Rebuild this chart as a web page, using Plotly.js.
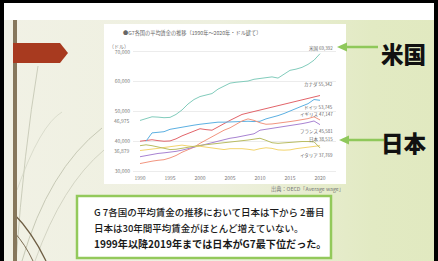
<!DOCTYPE html>
<html><head><meta charset="utf-8">
<script src="https://cdn.plot.ly/plotly-3.0.1.min.js"></script>
<style>
html,body{margin:0;padding:0;background:#fff;}
#chart{width:438px;height:261px;background:linear-gradient(to right,#f1f1e5 0%,#eef0df 50%,#e2eac3 85%,#e1e9c0 100%);}
</style></head><body><div id="chart"></div>
<script>
const years = [1990,1991,1992,1993,1994,1995,1996,1997,1998,1999,2000,2001,2002,2003,2004,2005,2006,2007,2008,2009,2010,2011,2012,2013,2014,2015,2016,2017,2018,2019,2020];
const countries = ['米国','カナダ','ドイツ','イギリス','フランス','日本','イタリア'];
const usa     = [46975,47500,48200,48100,47900,48000,49000,50500,52500,54000,55000,55500,56000,57500,58500,59500,59800,60100,60200,60800,61000,61200,61600,61200,62500,63800,64200,64800,65800,67200,69392];
const canada  = [40000,40300,40500,40200,40000,40100,40800,41800,42600,43300,44200,43900,43700,44800,46000,47000,48000,49000,49500,50000,50400,50900,51500,52000,52500,53000,53300,53800,54300,54900,55342];
const germany = [null,40000,42800,43000,43200,44000,44400,44700,45000,45400,45700,46000,46200,46400,46400,46500,46500,46600,46700,46600,46700,47500,48000,48600,49300,50200,51000,51800,52600,54000,53745];
const uk      = [32500,33000,33300,33600,33800,34400,35200,36300,37200,38000,39300,40400,41500,42600,43700,44500,45600,46800,47500,47000,46200,45700,45800,46000,46200,46600,46900,47200,47600,48200,47147];
const france  = [34800,35200,35600,35900,36100,36300,36600,37000,37500,38000,38400,39000,39600,40000,40500,41000,41300,41700,42000,42500,43700,44000,44200,44500,44900,45200,45500,45900,46300,46800,45581];
const japan   = [36879,37200,37400,37600,37900,38100,38400,38700,38400,38200,38300,38000,37600,37300,37200,37500,37600,37500,37300,37000,37500,37800,37600,37100,37000,37100,37500,37800,38000,38400,38515];
const italy   = [38500,38800,38500,38000,37600,37200,37300,37700,38000,38300,38600,38800,39000,39200,39500,39800,40000,40200,40400,40700,41000,40300,39500,39300,39500,39700,39900,39900,39900,39800,37769];
const seriesValues = [usa, canada, germany, uk, france, japan, italy];
const xTicks = [1990,1995,2000,2005,2010,2015,2020];
const yTicks = [30000,40000,50000,60000,70000];
const yTickText = ['30,000','40,000','50,000','60,000','70,000'];
const startLabels = [46975, 36879];
const chartTitle = '●G7各国の平均賃金の推移（1990年～2020年・ドル建て）';
const unitLabel = '（ドル）';
const sourceText = '出典：OECD「Average wage」';
const bigLabels = ['米国','日本'];
const boxLines = ['G 7各国の平均賃金の推移において日本は下から 2番目','日本は30年間平均賃金がほとんど増えていない。','1999年以降2019年までは日本がG7最下位だった。'];

const colors = ['#82ccbc','#e2646a','#5cb0e2','#f2957f','#a883d2','#f3d56e','#b9bc62'];
const W = 438, H = 261;
const X = p => p / W, Y = p => 1 - p / H;
const FONT = '"Noto Sans CJK JP", "Noto Sans", sans-serif';

const traces = seriesValues.map((v, i) => ({
  x: years, y: v, type: 'scatter', mode: 'lines', name: countries[i],
  line: {color: colors[i], width: 1}, connectgaps: false, hoverinfo: 'skip'
}));

function rect(x0, y0, x1, y1, fill, line) {
  return {type: 'rect', xref: 'paper', yref: 'paper', x0: X(x0), x1: X(x1), y0: Y(y1), y1: Y(y0),
    fillcolor: fill, line: line || {width: 0}, layer: 'below'};
}
function path(pts, fill, color, width) {
  let d = '';
  pts.forEach(p => { d += p[0] + (p[0] === 'Z' ? '' : ' ' + X(p[1]) + ',' + Y(p[2]) + (p.length > 3 ? ' ' + X(p[3]) + ',' + Y(p[4]) : '')) + ' '; });
  return {type: 'path', xref: 'paper', yref: 'paper', path: d.trim(), fillcolor: fill || 'rgba(0,0,0,0)',
    line: {color: color || 'rgba(0,0,0,0)', width: width || 0}, layer: 'below'};
}

const shapes = [
  rect(0, 0, 438, 20, '#ffffff'),
  // decorative strokes
  path([['M',16,261],['Q',24,150,38,66]], null, '#c6c8b6', 0.9),
  path([['M',22,261],['Q',48,170,102,128]], null, '#c2c4b0', 0.9),
  path([['M',35,261],['Q',62,185,104,150]], null, '#cbcdbb', 0.8),
  path([['M',17,190],['Q',40,125,62,112]], null, '#d0d2c2', 0.7),
  path([['M',14,214],['Q',32,232,46,261]], null, '#6e5e44', 1.3),
  path([['M',14,232],['Q',25,244,33,261]], null, '#7a6a50', 1.0),
  rect(13, 20, 17, 261, '#86775b'),
  path([['M',13,43],['L',60,43],['L',68,53],['L',60,63],['L',13,63],['Z']], '#a83a1f', null, 0),
  // chart image box
  rect(104, 24, 346, 184, '#ffffff'),
  // text box
  rect(77, 196, 331, 258, '#ffffff', {color: '#93c95b', width: 2.5}),
  // arrows
  {type: 'line', xref: 'paper', yref: 'paper', x0: X(346), x1: X(378), y0: Y(47), y1: Y(47), line: {color: '#8fc85a', width: 2.5}},
  path([['M',337,47],['L',347,42.5],['L',347,51.5],['Z']], '#8fc85a', null, 0),
  {type: 'line', xref: 'paper', yref: 'paper', x0: X(348), x1: X(384), y0: Y(140), y1: Y(140), line: {color: '#8fc85a', width: 2.5}},
  path([['M',339,140],['L',349,135.5],['L',349,144.5],['Z']], '#8fc85a', null, 0),
  // black frame
  rect(0, 0, 438, 3, '#000000'),
  rect(0, 0, 4, 261, '#000000'),
  rect(434, 0, 438, 261, '#000000')
];
shapes.slice(-7).forEach(s => s.layer = 'above');

const small = {family: FONT, size: 5, color: '#7a7a7a'};
const annotations = [
  {text: chartTitle, xref: 'paper', yref: 'paper', x: X(121), y: Y(33), xanchor: 'left', yanchor: 'middle', showarrow: false, font: {family: FONT, size: 5.2, color: '#666'}},
  {text: unitLabel, xref: 'paper', yref: 'paper', x: X(131), y: Y(45), xanchor: 'right', yanchor: 'middle', showarrow: false, font: small},
  {text: sourceText, xref: 'paper', yref: 'paper', x: X(346), y: Y(189), xanchor: 'right', yanchor: 'middle', showarrow: false, font: {family: FONT, size: 5.2, color: '#777'}}
];
startLabels.forEach(v => annotations.push({text: v.toLocaleString('en-US'), xref: 'paper', yref: 'y', x: X(131), y: v,
  xanchor: 'right', yanchor: 'middle', showarrow: false, font: small}));
const endY = [48, 85, 107, 114, 131, 139, 155];
countries.forEach((c, i) => {
  const v = seriesValues[i][seriesValues[i].length - 1];
  annotations.push({text: c + ' ' + v.toLocaleString('en-US'), xref: 'paper', yref: 'paper', x: X(335), y: Y(endY[i]),
    xanchor: 'right', yanchor: 'middle', showarrow: false, font: {family: FONT, size: 4.5, color: '#666'}});
});
[[403, 53], [404, 142]].forEach((p, i) => annotations.push({text: bigLabels[i], xref: 'paper', yref: 'paper',
  x: X(p[0]), y: Y(p[1]), xanchor: 'center', yanchor: 'middle', showarrow: false, font: {family: FONT, size: 22.5, color: '#111', weight: 900}}));
const boxSizes = [9.5, 9.5, 10.1];
const boxWeights = [500, 500, 700];
[212, 227.5, 243].forEach((yy, i) => annotations.push({text: boxLines[i], xref: 'paper', yref: 'paper', x: X(92), y: Y(yy),
  xanchor: 'left', yanchor: 'middle', showarrow: false, font: {family: FONT, size: boxSizes[i], color: '#1a1a1a', weight: boxWeights[i]}}));

const layout = {
  width: W, height: H, margin: {l: 0, r: 0, t: 0, b: 0},
  paper_bgcolor: 'rgba(0,0,0,0)', plot_bgcolor: 'rgba(0,0,0,0)', showlegend: false,
  font: {family: FONT},
  xaxis: {domain: [X(133), X(336)], range: [1988.833, 2022.667], tickvals: xTicks, showgrid: false, zeroline: false,
    showline: false, ticks: '', tickfont: small, fixedrange: true},
  yaxis: {domain: [Y(174), Y(48)], range: [29000, 71300], tickvals: yTicks, ticktext: yTickText, showgrid: true,
    gridcolor: '#e4e4e4', gridwidth: 0.7, zeroline: false, showline: false, ticks: '', tickfont: small, ticklabelstandoff: 2, fixedrange: true},
  shapes: shapes, annotations: annotations
};
Plotly.newPlot('chart', traces, layout, {staticPlot: true, displayModeBar: false});
</script></body></html>
